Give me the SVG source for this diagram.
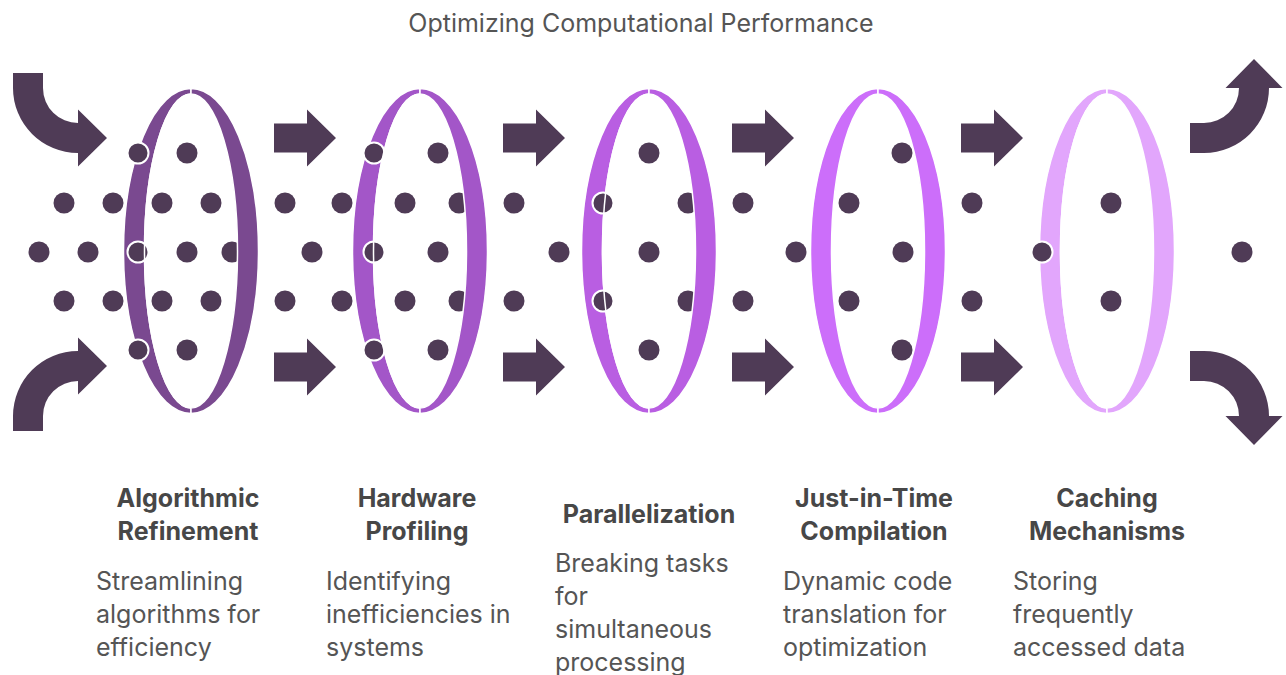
<svg xmlns="http://www.w3.org/2000/svg" xmlns:xlink="http://www.w3.org/1999/xlink" width="1286" height="675" viewBox="0 0 1286 675">
  <style>
    .title { font-family: Inter, Roboto, "Liberation Sans", sans-serif; font-size: 25px; fill: #555555; text-anchor: middle; }
    .head { font-family: Inter, Roboto, "Liberation Sans", sans-serif; font-size: 25px; font-weight: bold; fill: #474747; text-anchor: middle; }
    .desc { font-family: Inter, Roboto, "Liberation Sans", sans-serif; font-size: 25px; fill: #555555; }
    .arrow { fill: #4F3B56; }
    .dot { fill: #4F3B56; }
    .front { fill: #4F3B56; stroke: #FFFFFF; stroke-width: 2; }
    .band { stroke: #FFFFFF; stroke-width: 1.5; stroke-linejoin: round; }
    .edge { fill: none; stroke: #FFFFFF; stroke-width: 1.5; }
  </style>
  <defs>
    <!-- straight block arrow, left end at origin, centred on y=0 -->
    <path id="fwd" d="M0,-14.5 H33 V-28.5 L62,0 L33,28.5 V14.5 H0 Z"/>
    <!-- ring halves centred on the origin: outer ellipse 67.5x162.5, hole 46.5x157 -->
    <path id="halfL" d="M0,-162.5 A67.5,162.5 0 0 0 0,162.5 V157 A46.5,157 0 0 1 0,-157 Z"/>
    <path id="halfR" d="M0,-162.5 A67.5,162.5 0 0 1 0,162.5 V157 A46.5,157 0 0 0 0,-157 Z"/>
    <path id="edgeL" d="M0,-157 A46.5,157 0 0 0 0,157"/>
    <circle id="pt" r="10.5"/>
  </defs>

  <text class="title" x="641" y="32">Optimizing Computational Performance</text>

  <!-- flow arrows -->
  <g id="connectors" class="arrow">
    <path d="M13,73 H43 V88 A35,35 0 0 0 78,123 V109.5 L107,138 L78,166.5 V153 A65,65 0 0 1 13,88 Z"/>
    <path transform="matrix(1 0 0 -1 0 504)" d="M13,73 H43 V88 A35,35 0 0 0 78,123 V109.5 L107,138 L78,166.5 V153 A65,65 0 0 1 13,88 Z"/>
    <use xlink:href="#fwd" x="274" y="138"/>
    <use xlink:href="#fwd" x="274" y="367"/>
    <use xlink:href="#fwd" x="503" y="138"/>
    <use xlink:href="#fwd" x="503" y="367"/>
    <use xlink:href="#fwd" x="732" y="138"/>
    <use xlink:href="#fwd" x="732" y="367"/>
    <use xlink:href="#fwd" x="961" y="138"/>
    <use xlink:href="#fwd" x="961" y="367"/>
    <path d="M1190,153 V123 H1204 A35,35 0 0 0 1239,88 H1225.5 L1254,59 L1282.5,88 H1269 A65,65 0 0 1 1204,153 Z"/>
    <path transform="matrix(1 0 0 -1 0 504)" d="M1190,153 V123 H1204 A35,35 0 0 0 1239,88 H1225.5 L1254,59 L1282.5,88 H1269 A65,65 0 0 1 1204,153 Z"/>
  </g>

  <!-- particles passing through the rings (behind the bands) -->
  <g id="particles" class="dot">
    <use xlink:href="#pt" x="187" y="153"/><use xlink:href="#pt" x="438" y="153"/>
    <use xlink:href="#pt" x="649" y="153"/><use xlink:href="#pt" x="902" y="153"/>

    <use xlink:href="#pt" x="64" y="203"/><use xlink:href="#pt" x="113" y="203"/>
    <use xlink:href="#pt" x="162" y="203"/><use xlink:href="#pt" x="211" y="203"/>
    <use xlink:href="#pt" x="285" y="203"/><use xlink:href="#pt" x="342" y="203"/>
    <use xlink:href="#pt" x="405" y="203"/><use xlink:href="#pt" x="459" y="203"/>
    <use xlink:href="#pt" x="514" y="203"/><use xlink:href="#pt" x="688" y="203"/>
    <use xlink:href="#pt" x="743" y="203"/><use xlink:href="#pt" x="849" y="203"/>
    <use xlink:href="#pt" x="972" y="203"/><use xlink:href="#pt" x="1111" y="203"/>

    <use xlink:href="#pt" x="39" y="252"/><use xlink:href="#pt" x="88" y="252"/>
    <use xlink:href="#pt" x="187" y="252"/><use xlink:href="#pt" x="232" y="252"/>
    <use xlink:href="#pt" x="312" y="252"/><use xlink:href="#pt" x="438" y="252"/>
    <use xlink:href="#pt" x="559" y="252"/><use xlink:href="#pt" x="649" y="252"/>
    <use xlink:href="#pt" x="796" y="252"/><use xlink:href="#pt" x="903" y="252"/>
    <use xlink:href="#pt" x="1242" y="252"/>

    <use xlink:href="#pt" x="64" y="301"/><use xlink:href="#pt" x="113" y="301"/>
    <use xlink:href="#pt" x="162" y="301"/><use xlink:href="#pt" x="211" y="301"/>
    <use xlink:href="#pt" x="285" y="301"/><use xlink:href="#pt" x="342" y="301"/>
    <use xlink:href="#pt" x="405" y="301"/><use xlink:href="#pt" x="459" y="301"/>
    <use xlink:href="#pt" x="514" y="301"/><use xlink:href="#pt" x="688" y="301"/>
    <use xlink:href="#pt" x="743" y="301"/><use xlink:href="#pt" x="849" y="301"/>
    <use xlink:href="#pt" x="972" y="301"/><use xlink:href="#pt" x="1111" y="301"/>

    <use xlink:href="#pt" x="187" y="350"/><use xlink:href="#pt" x="438" y="350"/>
    <use xlink:href="#pt" x="649" y="350"/><use xlink:href="#pt" x="902" y="350"/>
  </g>

  <!-- Stage 1 -->
  <g id="algorithmic-refinement">
    <g transform="translate(191 251)" fill="#7A4990">
      <use xlink:href="#halfL" class="band"/>
      <use xlink:href="#halfR" class="band"/>
    </g>
    <use xlink:href="#pt" class="front" x="138" y="153"/>
    <use xlink:href="#pt" class="front" x="138" y="252"/>
    <use xlink:href="#pt" class="front" x="138" y="350"/>
    <use xlink:href="#edgeL" class="edge" transform="translate(191 251)"/>
    <text class="head" x="188" y="507">Algorithmic</text>
    <text class="head" x="188" y="540">Refinement</text>
    <text class="desc" x="96" y="590">Streamlining</text>
    <text class="desc" x="96" y="623">algorithms for</text>
    <text class="desc" x="96" y="656">efficiency</text>
  </g>

  <!-- Stage 2 -->
  <g id="hardware-profiling">
    <g transform="translate(420 251)" fill="#A356C8">
      <use xlink:href="#halfL" class="band"/>
      <use xlink:href="#halfR" class="band"/>
    </g>
    <use xlink:href="#pt" class="front" x="374" y="153"/>
    <use xlink:href="#pt" class="front" x="374" y="252"/>
    <use xlink:href="#pt" class="front" x="374" y="350"/>
    <use xlink:href="#edgeL" class="edge" transform="translate(420 251)"/>
    <text class="head" x="417" y="507">Hardware</text>
    <text class="head" x="417" y="540">Profiling</text>
    <text class="desc" x="326" y="590">Identifying</text>
    <text class="desc" x="326" y="623">inefficiencies in</text>
    <text class="desc" x="326" y="656">systems</text>
  </g>

  <!-- Stage 3 -->
  <g id="parallelization">
    <g transform="translate(649 251)" fill="#B95EE2">
      <use xlink:href="#halfL" class="band"/>
      <use xlink:href="#halfR" class="band"/>
    </g>
    <use xlink:href="#pt" class="front" x="603" y="203"/>
    <use xlink:href="#pt" class="front" x="603" y="301"/>
    <use xlink:href="#edgeL" class="edge" transform="translate(649 251)"/>
    <text class="head" x="649" y="523">Parallelization</text>
    <text class="desc" x="555" y="572">Breaking tasks</text>
    <text class="desc" x="555" y="605">for</text>
    <text class="desc" x="555" y="638">simultaneous</text>
    <text class="desc" x="555" y="671">processing</text>
  </g>

  <!-- Stage 4 -->
  <g id="jit-compilation">
    <g transform="translate(878 251)" fill="#CC6EFA">
      <use xlink:href="#halfL" class="band"/>
      <use xlink:href="#halfR" class="band"/>
    </g>
    <text class="head" x="874" y="507">Just-in-Time</text>
    <text class="head" x="874" y="540">Compilation</text>
    <text class="desc" x="783" y="590">Dynamic code</text>
    <text class="desc" x="783" y="623">translation for</text>
    <text class="desc" x="783" y="656">optimization</text>
  </g>

  <!-- Stage 5 -->
  <g id="caching-mechanisms">
    <g transform="translate(1107 251)" fill="#E2A6FC">
      <use xlink:href="#halfL" class="band"/>
      <use xlink:href="#halfR" class="band"/>
    </g>
    <use xlink:href="#pt" class="front" x="1042" y="252"/>
    <use xlink:href="#edgeL" class="edge" transform="translate(1107 251)"/>
    <text class="head" x="1107" y="507">Caching</text>
    <text class="head" x="1107" y="540">Mechanisms</text>
    <text class="desc" x="1013" y="590">Storing</text>
    <text class="desc" x="1013" y="623">frequently</text>
    <text class="desc" x="1013" y="656">accessed data</text>
  </g>
</svg>
